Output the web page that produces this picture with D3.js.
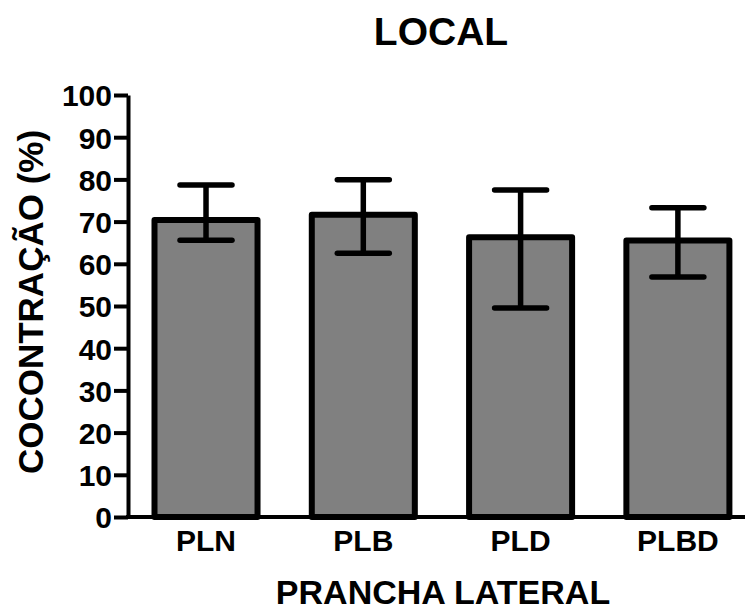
<!DOCTYPE html>
<html>
<head>
<meta charset="utf-8">
<script src="https://cdn.jsdelivr.net/npm/d3@7"></script>
<style>
  body { margin: 0; background: #fff; }
  svg { display: block; font-family: "Liberation Sans", Arial, sans-serif; font-weight: bold; }
</style>
</head>
<body>
<svg id="chart" width="747" height="614"></svg>
<script>
// data
const categories = ['PLN', 'PLB', 'PLD', 'PLBD'];
const means = [70.4, 71.6, 66.3, 65.5];
const errUpper = [78.7, 79.9, 77.5, 73.3];
const errLower = [65.6, 62.5, 49.5, 56.9];
const yTicks = [0, 10, 20, 30, 40, 50, 60, 70, 80, 90, 100];

const svg = d3.select('#chart');

const y = d3.scaleLinear().domain([0, 100]).range([517, 95]);
const x = d3.scaleBand().domain(categories).range([154.5, 729.4]).paddingInner(0.345).paddingOuter(0);

// Title
svg.append('text')
    .attr('x', 441).attr('y', 45)
    .attr('text-anchor', 'middle')
    .attr('font-size', 39)
    .text('LOCAL');

// Bars
svg.selectAll('.bar')
    .data(categories)
    .join('rect')
    .attr('class', 'bar')
    .attr('x', d => x(d))
    .attr('width', x.bandwidth())
    .attr('y', (d, i) => y(means[i]))
    .attr('height', (d, i) => y(0) - y(means[i]))
    .attr('fill', '#808080')
    .attr('stroke', '#000')
    .attr('stroke-width', 6)
    .attr('stroke-linejoin', 'round');

// Error bars
const cx = d => x(d) + x.bandwidth() / 2;
const capHalf = 26;
const err = svg.append('g')
    .attr('stroke', '#000')
    .attr('stroke-width', 5.5)
    .attr('stroke-linecap', 'round');

err.selectAll('.stem')
    .data(categories)
    .join('line')
    .attr('x1', cx).attr('x2', cx)
    .attr('y1', (d, i) => y(errUpper[i]))
    .attr('y2', (d, i) => y(errLower[i]))
    .attr('stroke-linecap', 'butt');

err.selectAll('.capTop')
    .data(categories)
    .join('line')
    .attr('x1', d => cx(d) - capHalf).attr('x2', d => cx(d) + capHalf)
    .attr('y1', (d, i) => y(errUpper[i])).attr('y2', (d, i) => y(errUpper[i]));

err.selectAll('.capBot')
    .data(categories)
    .join('line')
    .attr('x1', d => cx(d) - capHalf).attr('x2', d => cx(d) + capHalf)
    .attr('y1', (d, i) => y(errLower[i])).attr('y2', (d, i) => y(errLower[i]));

// Y axis
const yAxis = svg.append('g')
    .attr('transform', 'translate(128,0)')
    .call(d3.axisLeft(y).tickValues(yTicks).tickSize(14).tickPadding(2).tickSizeOuter(0));
yAxis.select('.domain').attr('stroke', '#000').attr('stroke-width', 4);
yAxis.selectAll('.tick line').attr('stroke', '#000').attr('stroke-width', 4);
yAxis.selectAll('.tick text')
    .attr('font-size', 30)
    .attr('font-family', '"Liberation Sans", Arial, sans-serif')
    .attr('font-weight', 'bold')
    .attr('fill', '#000')
    .attr('dy', '0.36em');

// X axis line
svg.append('line')
    .attr('x1', 126).attr('x2', 745)
    .attr('y1', y(0)).attr('y2', y(0))
    .attr('stroke', '#000').attr('stroke-width', 4);

// X labels
svg.selectAll('.xlab')
    .data(categories)
    .join('text')
    .attr('class', 'xlab')
    .attr('x', cx)
    .attr('y', 551)
    .attr('text-anchor', 'middle')
    .attr('font-size', 30)
    .text(d => d);

// Axis titles
svg.append('text')
    .attr('x', 443).attr('y', 604)
    .attr('text-anchor', 'middle')
    .attr('font-size', 34)
    .text('PRANCHA LATERAL');

svg.append('text')
    .attr('transform', 'translate(43,302) rotate(-90)')
    .attr('text-anchor', 'middle')
    .attr('font-size', 35)
    .text('COCONTRAÇÃO (%)');
</script>
</body>
</html>
